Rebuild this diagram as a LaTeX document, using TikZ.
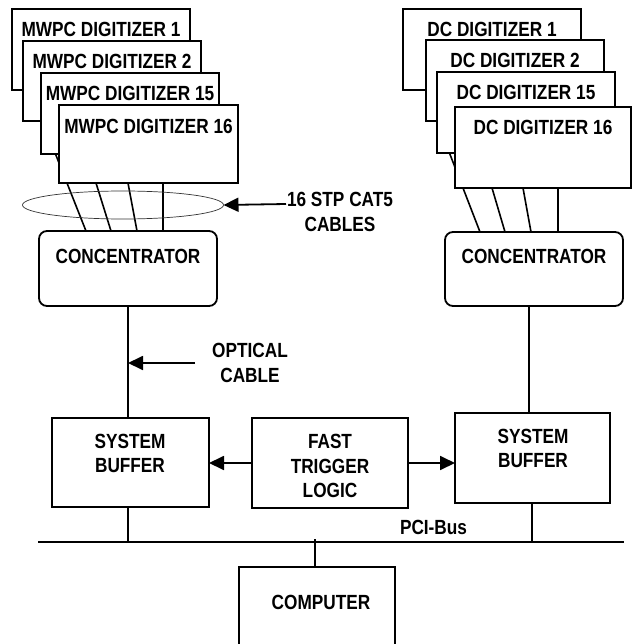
\documentclass[tikz,border=0pt]{standalone}
\usepackage{fontspec}
\setmainfont{Liberation Sans}[FakeStretch=0.84]
\usetikzlibrary{arrows.meta,calc,shapes.geometric}
\begin{document}
\begin{tikzpicture}[x=1pt,y=-1pt,
  every node/.style={inner sep=0pt, outer sep=0pt},
  box/.style={draw, line width=1.8pt, fill=white, rectangle, anchor=north west},
  conc/.style={box, rounded corners=8pt},
  txt/.style={font=\fontsize{20.5}{24.5}\selectfont\bfseries, align=center},
  ln/.style={line width=1.8pt},
  cable/.style={line width=1.6pt},
  arr/.style={line width=1.8pt, -{Triangle[length=15pt,width=14pt]}}
]
\useasboundingbox (0,0) rectangle (632,644);
\clip (0,0) rectangle (632,644);

% cable start points (hidden behind digitizer boxes)
\coordinate (mc1) at (53.9,150);
\coordinate (mc2) at (85.7,150);
\coordinate (mc3) at (121.8,150);
\coordinate (mc4) at (163,150);
\coordinate (dc1) at (448.3,150);
\coordinate (dc2) at (480.8,150);
\coordinate (dc3) at (516.1,150);
\coordinate (dc4) at (558,150);

% concentrators
\node[conc, minimum width=178pt, minimum height=75pt] (lcon) at (39,231) {};
\node[txt] (lcont) at ($(lcon.north)+(0,25.5)$) {CONCENTRATOR};
\node[conc, minimum width=178pt, minimum height=74pt] (rcon) at (445,232) {};
\node[txt] (rcont) at ($(rcon.north)+(0,24.5)$) {CONCENTRATOR};

% cables
\draw[cable] (mc1) -- ($(lcon.north west)+(47,0)$);
\draw[cable] (mc2) -- ($(lcon.north west)+(72,0)$);
\draw[cable] (mc3) -- ($(lcon.north west)+(98,0)$);
\draw[cable] (mc4) -- ($(lcon.north west)+(124,0)$);
\draw[cable] (dc1) -- ($(rcon.north west)+(35,0)$);
\draw[cable] (dc2) -- ($(rcon.north west)+(60,0)$);
\draw[cable] (dc3) -- ($(rcon.north west)+(86,0)$);
\draw[cable] (dc4) -- ($(rcon.north west)+(113,0)$);

% MWPC digitizers
\node[box, minimum width=178pt, minimum height=81pt] (m1) at (12,9) {};
\node[txt] (m1t) at ($(m1.north)+(0,20)$) {MWPC DIGITIZER 1};
\node[box, minimum width=178pt, minimum height=80pt] (m2) at (23,41) {};
\node[txt] (m2t) at ($(m2.north)+(0,20)$) {MWPC DIGITIZER 2};
\node[box, minimum width=178pt, minimum height=81pt] (m3) at (41,73) {};
\node[txt] (m3t) at ($(m3.north)+(0,20)$) {MWPC DIGITIZER 15};
\node[box, minimum width=179pt, minimum height=78pt] (m4) at (59,105) {};
\node[txt] (m4t) at ($(m4.north)+(0,21)$) {MWPC DIGITIZER 16};

% DC digitizers
\node[box, minimum width=178pt, minimum height=81pt] (d1) at (403,9) {};
\node[txt] (d1t) at ($(d1.north)+(0,20)$) {DC DIGITIZER 1};
\node[box, minimum width=178pt, minimum height=81pt] (d2) at (426,40) {};
\node[txt] (d2t) at ($(d2.north)+(0,20)$) {DC DIGITIZER 2};
\node[box, minimum width=178pt, minimum height=81pt] (d3) at (437,72) {};
\node[txt] (d3t) at ($(d3.north)+(0,20)$) {DC DIGITIZER 15};
\node[box, minimum width=176pt, minimum height=81pt] (d4) at (455,107) {};
\node[txt] (d4t) at ($(d4.north)+(0,20)$) {DC DIGITIZER 16};

% cable bundle
\node[draw=black!80, line width=0.7pt, ellipse, minimum width=201pt, minimum height=28pt] (bundle) at (123,205) {};
\node[txt] (cablelab) at (340,212) {16 STP CAT5\\CABLES};
\coordinate (cabtail) at (286,204);
\draw[arr] (cabtail) -- (bundle.east);

% buffers and trigger
\node[box, minimum width=157pt, minimum height=89pt] (lbuf) at (52,418) {};
\node[txt] (lbuft) at (130,453.5) {SYSTEM\\BUFFER};
\node[box, minimum width=156pt, minimum height=90pt] (trig) at (252,418) {};
\node[txt] (trigt) at (330,466) {FAST\\TRIGGER\\LOGIC};
\node[box, minimum width=155pt, minimum height=90pt] (rbuf) at (455,413) {};
\node[txt] (rbuft) at (533,448.5) {SYSTEM\\BUFFER};

% optical cable links
\coordinate (lcb) at (128,306);
\coordinate (lbt) at (128,418);
\coordinate (rcb) at (529,306);
\coordinate (rbt) at (529,413);
\draw[ln] (lcb) -- (lbt);
\draw[ln] (rcb) -- (rbt);
\coordinate (optip) at (128,363);
\coordinate (optail) at (195,363);
\draw[arr] (optail) -- (optip);
\node[txt] (optlab) at (250,363) {OPTICAL\\CABLE};

% trigger arrows
\coordinate (tw) at (252,463);
\coordinate (lbe) at (209,463);
\coordinate (te) at (408,463);
\coordinate (rbw) at (455,463);
\draw[arr] (tw) -- (lbe);
\draw[arr] (te) -- (rbw);

% PCI bus
\coordinate (busL) at (38,542);
\coordinate (busR) at (624,542);
\draw[ln] (busL) -- (busR);
\node[txt] (pci) at (433.5,527.5) {PCI-Bus};
\coordinate (lbb) at (128,507);
\coordinate (lbus) at (128,542);
\coordinate (rbb) at (532,503);
\coordinate (rbus) at (532,542);
\draw[ln] (lbb) -- (lbus);
\draw[ln] (rbb) -- (rbus);

% computer
\node[box, minimum width=156pt, minimum height=100pt] (comp) at (239,567) {};
\node[txt] (compt) at (321,602) {COMPUTER};
\coordinate (ct) at (315,567);
\coordinate (cbus) at (315,539);
\draw[ln] (ct) -- (cbus);
\end{tikzpicture}
\end{document}
